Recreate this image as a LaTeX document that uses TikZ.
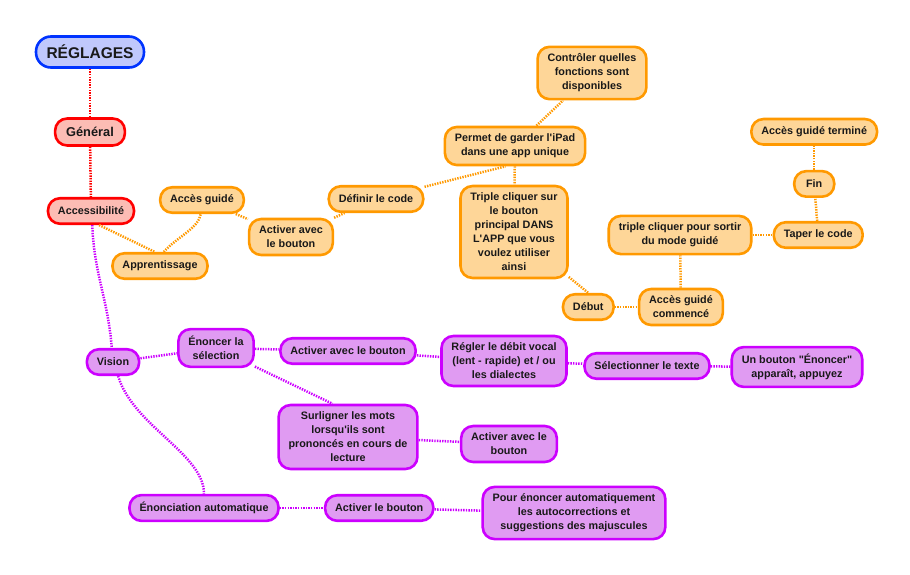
\documentclass[tikz,border=0pt]{standalone}
\usepackage{fontspec}
\setmainfont{Liberation Sans}
\usepackage{tikz}
\usetikzlibrary{positioning}
\definecolor{bluedge}{RGB}{0,51,255}
\definecolor{bluefill}{RGB}{192,200,252}
\definecolor{rededge}{RGB}{255,0,0}
\definecolor{redfill}{RGB}{252,188,180}
\definecolor{oredge}{RGB}{255,153,0}
\definecolor{orfill}{RGB}{254,214,152}
\definecolor{puredge}{RGB}{204,0,255}
\definecolor{purfill}{RGB}{224,155,242}

\begin{document}
\begin{tikzpicture}[
  x=1pt, y=-1pt,
  topic/.style={rectangle,rounded corners=12pt,line width=2.6pt,align=center,
    font=\fontsize{10.8}{14}\selectfont\bfseries,text=black!90,
    inner xsep=10pt,inner ysep=7pt,minimum height=25.5pt,minimum width=40pt},
  rootbox/.style={topic,draw=bluedge,fill=bluefill,rounded corners=15pt,
    font=\fontsize{15.5}{18}\selectfont\bfseries,inner xsep=10.5pt,minimum height=31pt},
  redbox/.style={topic,draw=rededge,fill=redfill},
  orbox/.style={topic,draw=oredge,fill=orfill},
  purbox/.style={topic,draw=puredge,fill=purfill},
  link/.style={line width=2.5pt,dash pattern=on 1.4pt off 1.2pt},
  redlink/.style={link,draw=rededge},
  orlink/.style={link,draw=oredge},
  purlink/.style={link,draw=puredge}
]
  \useasboundingbox (0,0) rectangle (910,575);

  % root and first level
  \node[rootbox] (reglages) at (90,52) {RÉGLAGES};
  \node[redbox,font=\fontsize{12.8}{15}\selectfont\bfseries,inner xsep=11pt,minimum height=27pt]
    (general) at (90,132) {Général};
  \node[redbox] (access) at (91,211) {Accessibilité};

  % guided access branch
  \node[orbox] (appren) at (160,266) {Apprentissage};
  \node[orbox] (guide) at (202,200) {Accès guidé};
  \node[orbox] (activor) at (291,237) {Activer avec\\le bouton};
  \node[orbox] (definir) at (376,199) {Définir le code};
  \node[orbox] (permet) at (515,146) {Permet de garder l\textquotesingle iPad\\dans une app unique};
  \node[orbox] (controler) at (592,73) {Contrôler quelles\\fonctions sont\\disponibles};
  \node[orbox] (triple) at (514,232) {Triple cliquer sur\\le bouton\\principal DANS\\L\textquotesingle APP que vous\\voulez utiliser\\ainsi};
  \node[orbox] (commence) at (681,307) {Accès guidé\\commencé};
  \node[orbox, left=23pt of commence] (debut) {Début};
  \node[orbox] (sortir) at (680,235) {triple cliquer pour sortir\\du mode guidé};
  \node[orbox, right=20pt of sortir] (taper) {Taper le code};
  \node[orbox, above=23pt of taper, xshift=-4pt] (fin) {Fin};
  \node[orbox, above=24pt of fin] (termine) {Accès guidé terminé};

  % vision branch
  \node[purbox] (vision) at (113,362) {Vision};
  \node[purbox] (enoncer) at (216,348) {Énoncer la\\sélection};
  \node[purbox] (activpa) at (348,351) {Activer avec le bouton};
  \node[purbox] (regler) at (504,361) {Régler le débit vocal\\(lent - rapide) et / ou\\les dialectes};
  \node[purbox] (selection) at (647,366) {Sélectionner le texte};
  \node[purbox] (unbouton) at (797,367) {Un bouton \textquotedbl Énoncer\textquotedbl\\apparaît, appuyez};
  \node[purbox] (surligner) at (348,437) {Surligner les mots\\lorsqu\textquotesingle ils sont\\prononcés en cours de\\lecture};
  \node[purbox] (activpb) at (509,444) {Activer avec le\\bouton};
  \node[purbox] (autom) at (204,508) {Énonciation automatique};
  \node[purbox, right=44pt of autom] (activpc) {Activer le bouton};
  \node[purbox] (pour) at (574,513) {Pour énoncer automatiquement\\les autocorrections et\\suggestions des majuscules};

  \draw[redlink] (reglages) -- (general);
  \draw[redlink] (general) -- (access);

  \draw[orlink] (access.-60) -- (appren.110);
  \draw[orlink] (appren.75) .. controls +(12,-14) and +(-2,14) .. (guide.-95);
  \draw[orlink] (guide) -- (activor);
  \draw[orlink] (activor) -- (definir);
  \draw[orlink] (definir) -- (permet.-115);
  \draw[orlink] (permet) -- (controler);
  \draw[orlink] (permet) -- (triple);
  \draw[orlink] (triple) -- (debut.north);
  \draw[orlink] (debut) -- (commence);
  \draw[orlink] (commence) -- (sortir);
  \draw[orlink] (sortir) -- (taper);
  \draw[orlink] (taper) -- (fin);
  \draw[orlink] (fin) -- (termine);

  \draw[purlink] (access.-85) .. controls +(2,50) and +(-4,-50) .. (vision.95);
  \draw[purlink] (vision) -- (enoncer);
  \draw[purlink] (vision.-70) .. controls +(15,50) and +(0,-40) .. (autom.north);
  \draw[purlink] (enoncer) -- (activpa);
  \draw[purlink] (activpa) -- (regler);
  \draw[purlink] (regler) -- (selection);
  \draw[purlink] (selection) -- (unbouton);
  \draw[purlink] (enoncer) -- (surligner.115);
  \draw[purlink] (surligner) -- (activpb);
  \draw[purlink] (autom) -- (activpc);
  \draw[purlink] (activpc) -- (pour);
\end{tikzpicture}
\end{document}
